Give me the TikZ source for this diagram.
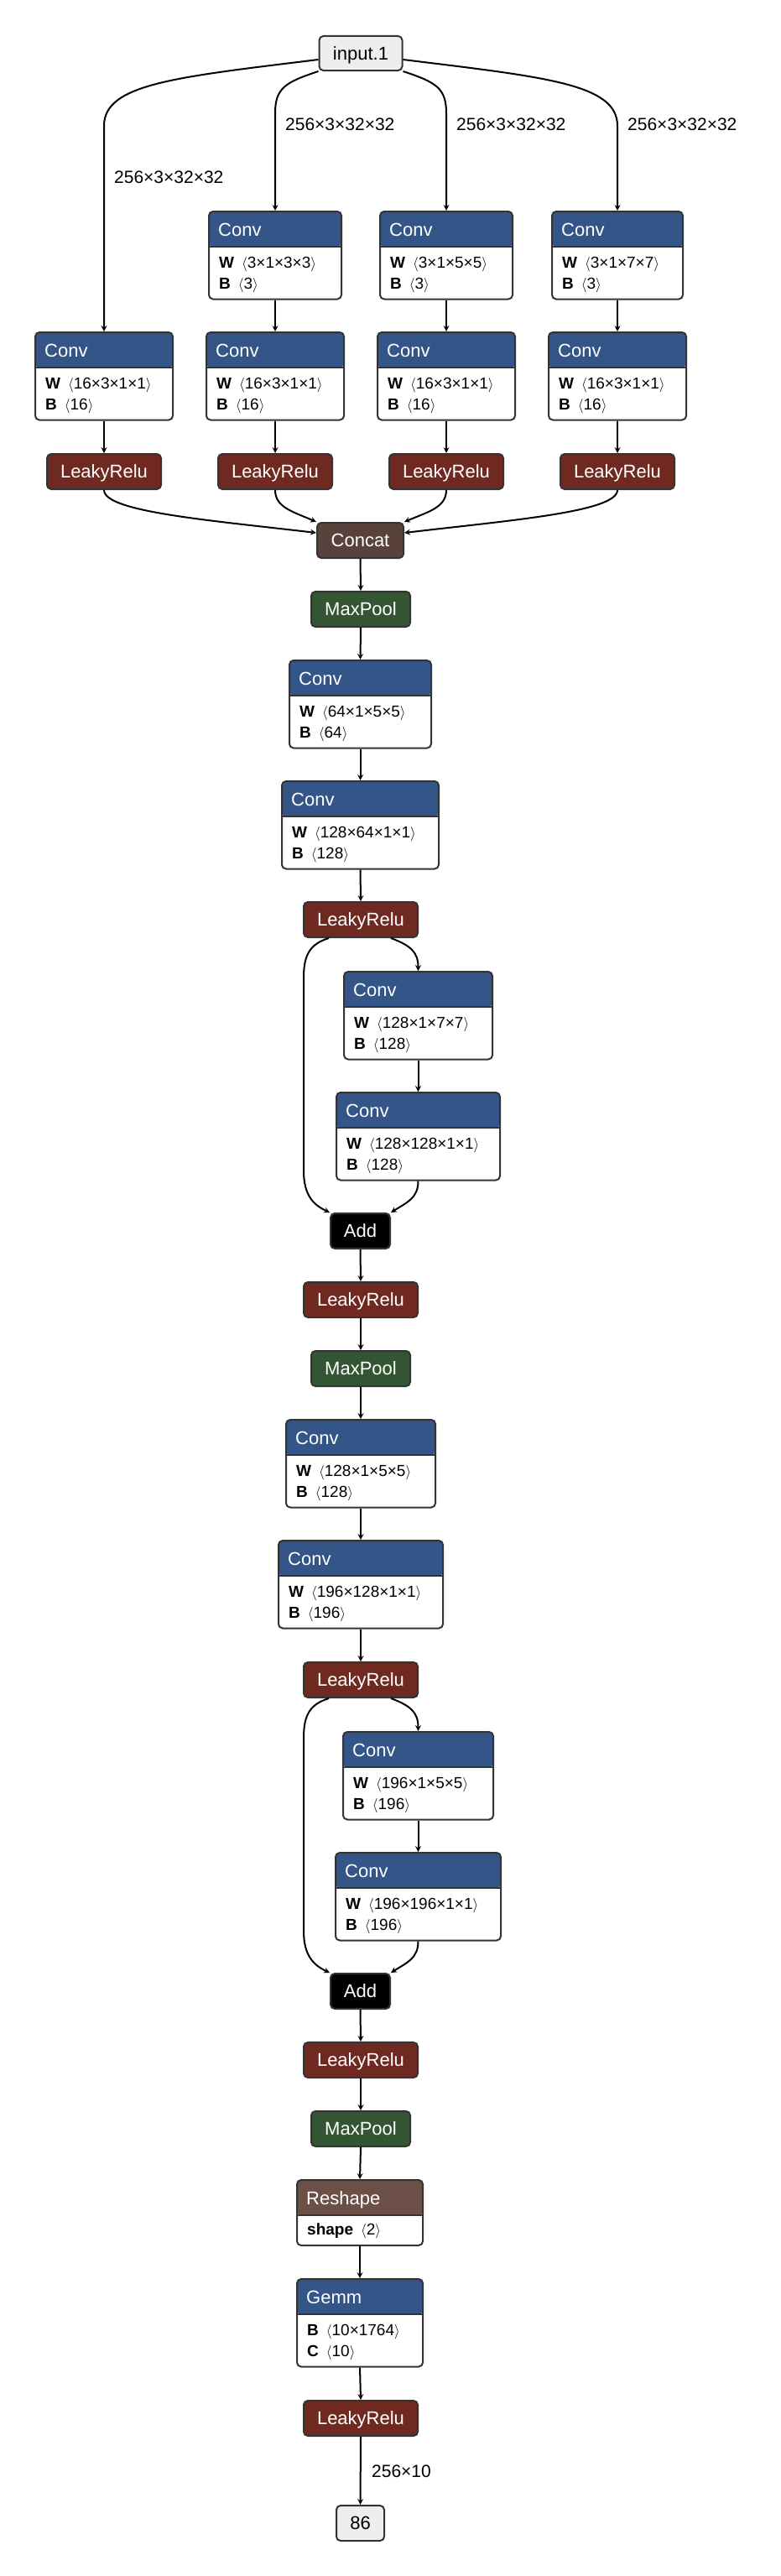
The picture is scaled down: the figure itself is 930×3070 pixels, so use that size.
\documentclass[tikz,border=0pt]{standalone}
\usepackage{fontspec}
\setmainfont{Liberation Sans}
\usepackage{tikz}
\usetikzlibrary{arrows,positioning}

\definecolor{convblue}{RGB}{51,85,136}
\definecolor{relured}{RGB}{112,41,33}
\definecolor{poolgreen}{RGB}{51,85,51}
\definecolor{concatbrown}{RGB}{89,66,59}
\definecolor{shapebrown}{RGB}{108,79,71}
\definecolor{iogray}{RGB}{238,238,238}
\definecolor{bordergray}{RGB}{51,51,51}

\newcommand{\hdrfont}{\fontsize{22}{26}\selectfont}
\newcommand{\attrfont}{\fontsize{19}{23}\selectfont}
\newcommand{\attr}[2]{\textbf{#1}\hspace{9pt}$\langle$#2$\rangle$}

\tikzset{
  opnode/.style={draw=bordergray,line width=2pt,rounded corners=5pt,anchor=north,minimum height=42pt,
    inner sep=0pt,text height=15.75pt,text depth=0pt,font=\hdrfont,text=white},
  relu/.style={opnode,fill=relured,minimum width=136pt},
  pool/.style={opnode,fill=poolgreen,minimum width=118pt},
  iobox/.style={opnode,fill=iogray,text=black},
  card/.style={draw=bordergray,line width=2pt,rounded corners=5pt,anchor=north,fill=white,
    inner sep=0pt,minimum height=104.5pt,
    path picture={
      \fill[#1] (path picture bounding box.north west) rectangle ([yshift=-42pt]path picture bounding box.north east);
      \draw[bordergray,line width=2pt] ([yshift=-42pt]path picture bounding box.north west) -- ([yshift=-42pt]path picture bounding box.north east);}},
  hdr/.style={anchor=base west,inner sep=0pt,font=\hdrfont,text=white},
  attrline/.style={anchor=base west,inner sep=0pt,font=\attrfont},
  elabel/.style={anchor=west,inner sep=0pt,font=\fontsize{21}{25}\selectfont},
  flow/.style={draw=black,line width=2pt,-stealth}
}

% conv-like card: name, position, width, title, first line, second line
\newcommand{\convnode}[6]{%
  \node[card=convblue,minimum width=#3] (#1) at (#2) {};
  \node[hdr] (#1-t) at ([shift={(12pt,-30pt)}]#1.north west) {#4};
  \node[attrline] (#1-w) at ([shift={(13pt,-68pt)}]#1.north west) {#5};
  \node[attrline] (#1-b) at ([shift={(13pt,-93pt)}]#1.north west) {#6};
}

\begin{document}
\begin{tikzpicture}[x=1pt,y=1pt]
\useasboundingbox (0,0) rectangle (930,-3070);

%%% Input and the four branches
\node[iobox,minimum width=99pt,minimum height=41pt] (in) at (430,-42) {input.1};

\convnode{a1}{328,-251}{158pt}{Conv}{\attr{W}{3×1×3×3}}{\attr{B}{3}}
\convnode{a2}{532,-251}{158pt}{Conv}{\attr{W}{3×1×5×5}}{\attr{B}{3}}
\convnode{a3}{736,-251}{156pt}{Conv}{\attr{W}{3×1×7×7}}{\attr{B}{3}}

\convnode{b0}{124,-395}{164pt}{Conv}{\attr{W}{16×3×1×1}}{\attr{B}{16}}
\convnode{b1}{328,-395}{164pt}{Conv}{\attr{W}{16×3×1×1}}{\attr{B}{16}}
\convnode{b2}{532,-395}{164pt}{Conv}{\attr{W}{16×3×1×1}}{\attr{B}{16}}
\convnode{b3}{736,-395}{164pt}{Conv}{\attr{W}{16×3×1×1}}{\attr{B}{16}}

\node[relu] (r0) at (124,-540) {LeakyRelu};
\node[relu] (r1) at (328,-540) {LeakyRelu};
\node[relu] (r2) at (532,-540) {LeakyRelu};
\node[relu] (r3) at (736,-540) {LeakyRelu};

%% edge labels
\node[elabel] (l0) at (136,-211) {256×3×32×32};
\node[elabel] (l1) at (340,-148) {256×3×32×32};
\node[elabel] (l2) at (544,-148) {256×3×32×32};
\node[elabel] (l3) at (748,-148) {256×3×32×32};

%% input edges
\draw[flow] ([yshift=-7.5pt]in.west) .. controls (209,-92) and (124,-100) .. (124,-150) -- (b0.north);
\draw[flow] (in.south west) .. controls (340,-98) and (328,-105) .. (328,-135) -- (a1.north);
\draw[flow] (in.south east) .. controls (520,-98) and (532,-105) .. (532,-135) -- (a2.north);
\draw[flow] ([yshift=-7.5pt]in.east) .. controls (651,-92) and (736,-100) .. (736,-150) -- (a3.north);

\draw[flow] (a1.south) -- (b1.north);
\draw[flow] (a2.south) -- (b2.north);
\draw[flow] (a3.south) -- (b3.north);
\draw[flow] (b0.south) -- (r0.north);
\draw[flow] (b1.south) -- (r1.north);
\draw[flow] (b2.south) -- (r2.north);
\draw[flow] (b3.south) -- (r3.north);

%%% Concat and main column
\node[opnode,fill=concatbrown,minimum width=103pt] (cc) at (429.5,-622) {Concat};

\draw[flow] (r0.south) .. controls (124,-610) and (250,-620) .. ([yshift=9pt]cc.west);
\draw[flow] (r1.south) .. controls (328,-605) and (350,-610) .. (cc.north west);
\draw[flow] (r2.south) .. controls (532,-605) and (510,-610) .. (cc.north east);
\draw[flow] (r3.south) .. controls (736,-610) and (609,-620) .. ([yshift=9pt]cc.east);

\node[pool] (mp1) at (430,-704) {MaxPool};
\convnode{cv1}{429.5,-786}{169pt}{Conv}{\attr{W}{64×1×5×5}}{\attr{B}{64}}
\convnode{cv2}{429.5,-930}{187pt}{Conv}{\attr{W}{128×64×1×1}}{\attr{B}{128}}
\node[relu] (lr1) at (430,-1074) {LeakyRelu};

\draw[flow] (cc.south) -- (mp1.north);
\draw[flow] (mp1.south) -- (cv1.north);
\draw[flow] (cv1.south) -- (cv2.north);
\draw[flow] (cv2.south) -- (lr1.north);

%% first residual block
\convnode{bc1}{498.5,-1157}{177pt}{Conv}{\attr{W}{128×1×7×7}}{\attr{B}{128}}
\convnode{bc2}{498.5,-1301}{195pt}{Conv}{\attr{W}{128×128×1×1}}{\attr{B}{128}}
\node[opnode,fill=black,minimum width=71pt] (add1) at (429.5,-1445) {Add};

\draw[flow] ([xshift=31pt]lr1.south west) .. controls (370,-1125) and (362,-1137) .. (362,-1165)
  -- (362,-1395) .. controls (362,-1425) and (374,-1436) .. (add1.north west);
\draw[flow] ([xshift=-33pt]lr1.south east) .. controls (490,-1127) and (498.5,-1135) .. (bc1.north);
\draw[flow] (bc1.south) -- (bc2.north);
\draw[flow] (bc2.south) .. controls (498.5,-1428) and (485,-1433) .. (add1.north east);

\node[relu] (lr2) at (430,-1527) {LeakyRelu};
\node[pool] (mp2) at (430,-1609) {MaxPool};
\convnode{cv3}{430,-1691}{178pt}{Conv}{\attr{W}{128×1×5×5}}{\attr{B}{128}}
\convnode{cv4}{430,-1835}{196pt}{Conv}{\attr{W}{196×128×1×1}}{\attr{B}{196}}
\node[relu] (lr3) at (430,-1980) {LeakyRelu};

\draw[flow] (add1.south) -- (lr2.north);
\draw[flow] (lr2.south) -- (mp2.north);
\draw[flow] (mp2.south) -- (cv3.north);
\draw[flow] (cv3.south) -- (cv4.north);
\draw[flow] (cv4.south) -- (lr3.north);

%% second residual block
\convnode{bc3}{498.5,-2063}{179pt}{Conv}{\attr{W}{196×1×5×5}}{\attr{B}{196}}
\convnode{bc4}{498.5,-2207}{197pt}{Conv}{\attr{W}{196×196×1×1}}{\attr{B}{196}}
\node[opnode,fill=black,minimum width=71pt] (add2) at (429.5,-2351) {Add};

\draw[flow] ([xshift=31pt]lr3.south west) .. controls (370,-2031) and (362,-2043) .. (362,-2071)
  -- (362,-2301) .. controls (362,-2331) and (374,-2342) .. (add2.north west);
\draw[flow] ([xshift=-33pt]lr3.south east) .. controls (490,-2033) and (498.5,-2041) .. (bc3.north);
\draw[flow] (bc3.south) -- (bc4.north);
\draw[flow] (bc4.south) .. controls (498.5,-2334) and (485,-2339) .. (add2.north east);

%%% Tail
\node[relu] (lr4) at (430,-2433) {LeakyRelu};
\node[pool] (mp3) at (430,-2515) {MaxPool};
\node[card=shapebrown,minimum width=150pt,minimum height=78pt] (rs) at (429,-2597) {};
\node[hdr] (rs-t) at ([shift={(12pt,-30pt)}]rs.north west) {Reshape};
\node[attrline] (rs-s) at ([shift={(13pt,-66pt)}]rs.north west) {\attr{shape}{2}};
\convnode{gm}{429,-2715}{150pt}{Gemm}{\attr{B}{10×1764}}{\attr{C}{10}}
\node[relu] (lr5) at (430,-2860) {LeakyRelu};
\node[iobox,minimum width=57pt] (out) at (429.5,-2985) {86};
\node[elabel] (l4) at (443,-2945) {256×10};

\draw[flow] (add2.south) -- (lr4.north);
\draw[flow] (lr4.south) -- (mp3.north);
\draw[flow] (mp3.south) -- (rs.north);
\draw[flow] (rs.south) -- (gm.north);
\draw[flow] (gm.south) -- (lr5.north);
\draw[flow] (lr5.south) -- (out.north);
\end{tikzpicture}
\end{document}
